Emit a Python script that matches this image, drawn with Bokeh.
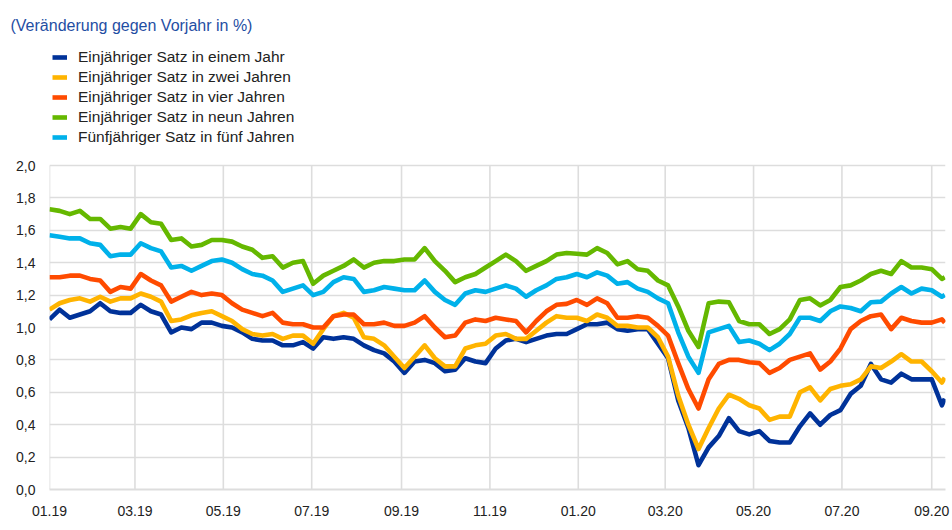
import pandas as pd
from bokeh.plotting import figure
from bokeh.models import (Range1d, FixedTicker, CustomJSTickFormatter, Legend,
                          LegendItem, ColumnDataSource)
from bokeh.embed import file_html
from bokeh.resources import INLINE

# ---- data (weekly readings, %) ----
dates = list(pd.date_range("2019-01-01", periods=89, freq="7D")) + [pd.Timestamp("2020-09-10")]

one_in_one = [1.05,1.11,1.06,1.08,1.10,1.15,1.10,1.09,1.09,1.14,
              1.10,1.08,0.97,1.00,0.99,1.03,1.03,1.01,1.00,0.97,
              0.93,0.92,0.92,0.89,0.89,0.91,0.87,0.94,0.93,0.94,
              0.93,0.89,0.86,0.84,0.79,0.72,0.79,0.80,0.78,0.73,
              0.74,0.81,0.79,0.78,0.87,0.92,0.93,0.91,0.93,0.95,
              0.96,0.96,0.99,1.02,1.02,1.03,0.99,0.98,0.99,0.99,
              0.90,0.81,0.55,0.38,0.15,0.26,0.33,0.44,0.36,0.34,
              0.36,0.30,0.29,0.29,0.39,0.47,0.40,0.46,0.49,0.59,
              0.64,0.775,0.68,0.66,0.715,0.68,0.68,0.68,0.52,0.56]

one_in_two = [1.11,1.15,1.17,1.18,1.16,1.19,1.16,1.18,1.18,1.21,
              1.19,1.16,1.04,1.05,1.075,1.09,1.10,1.07,1.04,0.99,
              0.96,0.95,0.96,0.93,0.95,0.95,0.90,0.99,1.07,1.09,
              1.06,0.94,0.93,0.89,0.82,0.75,0.82,0.89,0.81,0.76,
              0.76,0.87,0.89,0.90,0.95,0.96,0.93,0.93,0.98,1.03,
              1.07,1.06,1.06,1.04,1.08,1.06,1.01,1.01,1.00,1.00,
              0.94,0.82,0.58,0.40,0.25,0.38,0.50,0.585,0.56,0.52,
              0.50,0.43,0.45,0.45,0.60,0.63,0.55,0.62,0.64,0.65,
              0.68,0.76,0.75,0.79,0.835,0.79,0.79,0.73,0.66,0.69]

one_in_four = [1.31,1.31,1.32,1.32,1.30,1.29,1.22,1.25,1.24,1.33,
               1.29,1.26,1.16,1.19,1.22,1.20,1.21,1.20,1.15,1.11,
               1.09,1.07,1.09,1.03,1.02,1.02,1.00,1.00,1.07,1.08,
               1.08,1.02,1.02,1.03,1.01,1.01,1.03,1.07,1.00,0.94,
               0.95,1.03,1.05,1.04,1.06,1.05,1.04,0.97,1.04,1.10,
               1.14,1.146,1.17,1.14,1.18,1.15,1.06,1.06,1.07,1.06,
               1.01,0.95,0.78,0.62,0.50,0.68,0.775,0.80,0.80,0.785,
               0.78,0.72,0.75,0.80,0.82,0.84,0.74,0.79,0.87,0.99,
               1.04,1.07,1.08,0.99,1.06,1.04,1.03,1.03,1.05,1.03]

one_in_nine = [1.73,1.72,1.70,1.72,1.67,1.67,1.61,1.62,1.61,1.70,
               1.65,1.64,1.54,1.55,1.50,1.51,1.54,1.54,1.53,1.50,
               1.48,1.43,1.44,1.37,1.40,1.41,1.27,1.32,1.35,1.38,
               1.42,1.37,1.40,1.41,1.41,1.42,1.42,1.49,1.41,1.35,
               1.28,1.31,1.33,1.37,1.41,1.45,1.41,1.35,1.38,1.41,
               1.45,1.46,1.455,1.45,1.49,1.46,1.39,1.41,1.36,1.35,
               1.29,1.26,1.13,0.98,0.88,1.15,1.16,1.156,1.04,1.02,
               1.02,0.96,0.99,1.05,1.17,1.18,1.136,1.17,1.25,1.26,
               1.29,1.33,1.35,1.33,1.41,1.37,1.37,1.36,1.30,1.31]

five_in_five = [1.57,1.56,1.55,1.55,1.52,1.51,1.44,1.45,1.45,1.52,
                1.49,1.47,1.37,1.38,1.35,1.38,1.41,1.42,1.40,1.36,
                1.33,1.32,1.29,1.22,1.24,1.26,1.20,1.22,1.28,1.31,
                1.30,1.22,1.23,1.25,1.24,1.23,1.23,1.29,1.22,1.17,
                1.14,1.21,1.23,1.22,1.24,1.26,1.24,1.19,1.23,1.26,
                1.30,1.31,1.33,1.31,1.34,1.32,1.27,1.28,1.24,1.22,
                1.18,1.15,0.97,0.82,0.72,0.97,0.99,1.01,0.91,0.92,
                0.90,0.86,0.90,0.96,1.06,1.06,1.04,1.10,1.13,1.12,
                1.10,1.156,1.16,1.21,1.25,1.21,1.24,1.23,1.19,1.20]

series_names = ["Einjähriger Satz in einem Jahr", "Einjähriger Satz in zwei Jahren",
                "Einjähriger Satz in vier Jahren", "Einjähriger Satz in neun Jahren",
                "Fünfjähriger Satz in fünf Jahren"]
series_values = [one_in_one, one_in_two, one_in_four, one_in_nine, five_in_five]
series_colors = ["#003299", "#FFB400", "#FF4B00", "#65B800", "#00B1EA"]

tick_dates = ["2019-01-01", "2019-03-01", "2019-05-01", "2019-07-01", "2019-09-01",
              "2019-11-01", "2020-01-01", "2020-03-01", "2020-05-01", "2020-07-01",
              "2020-09-01"]
y_ticks = [0.0, 0.2, 0.4, 0.6, 0.8, 1.0, 1.2, 1.4, 1.6, 1.8, 2.0]
title_text = "(Veränderung gegen Vorjahr in %)"

# ---- figure ----
FONT = "Liberation Sans"
GRID = "#dddddd"
# frame: left 49, right 945, top 35, bottom 489 (px); y-axis 2,0 sits 162 px above 0
p = figure(width=950, height=526, x_axis_type="datetime", output_backend="svg",
           toolbar_location=None, min_border_left=49, min_border_right=5,
           min_border_top=35, min_border_bottom=37)
p.outline_line_color = None
p.background_fill_color = "white"
p.border_fill_color = "white"

p.x_range = Range1d(pd.Timestamp("2019-01-01"), pd.Timestamp("2020-09-10 12:00"))
p.y_range = Range1d(0, y_ticks[-1] * (489 - 35) / (489 - 165))

tick_ts = [pd.Timestamp(d) for d in tick_dates]
xt = FixedTicker(ticks=[t.value / 1e6 for t in tick_ts])
p.xaxis.ticker = xt
p.xgrid.visible = False
p.xaxis.formatter = CustomJSTickFormatter(code="""
const d = new Date(tick);
const m = String(d.getUTCMonth() + 1).padStart(2, '0');
const y = String(d.getUTCFullYear()).slice(2);
return m + '.' + y;""")
yt = FixedTicker(ticks=y_ticks)
p.yaxis.ticker = yt
p.ygrid.ticker = yt
p.yaxis.formatter = CustomJSTickFormatter(code="return tick.toFixed(1).replace('.', ',');")

for ax in (p.xaxis[0], p.yaxis[0]):
    ax.major_tick_line_color = None
    ax.minor_tick_line_color = None
    ax.major_label_text_font = FONT
    ax.major_label_text_font_size = "14px"
    ax.major_label_text_color = "#222222"
p.xaxis.major_label_standoff = 10
p.yaxis.major_label_standoff = 8
p.xaxis.axis_line_color = GRID
p.xaxis.axis_line_width = 2
p.yaxis.axis_line_color = None

p.ygrid.grid_line_color = GRID
p.ygrid.grid_line_width = 1.6

# vertical grid lines limited to the value axis span (0 .. 2,0)
p.segment(x0=tick_ts, y0=[y_ticks[0]] * len(tick_ts), x1=tick_ts,
          y1=[y_ticks[-1]] * len(tick_ts), line_color=GRID, line_width=1.6)

items = []
for name, vals, col in zip(series_names, series_values, series_colors):
    src = ColumnDataSource(dict(x=dates, y=vals))
    r = p.line("x", "y", source=src, line_color=col, line_width=4.6, line_join="round")
    items.append(LegendItem(label=name, renderers=[r]))

legend = Legend(items=items, location=(3, 342), orientation="vertical",
                padding=0, margin=0, spacing=0, label_height=20, glyph_height=20,
                glyph_width=15, label_standoff=11, label_text_font=FONT,
                label_text_font_size="15.5px", label_text_color="#222222",
                border_line_color=None, background_fill_alpha=0)
p.add_layout(legend, "center")

p.title.text = title_text
p.title.align = "left"
p.title.offset = -39
p.title.text_font = FONT
p.title.text_font_size = "16px"
p.title.text_font_style = "normal"
p.title.text_color = "#1f4ea3"
p.title.standoff = 4

open("out.html", "w").write(file_html(p, INLINE))
